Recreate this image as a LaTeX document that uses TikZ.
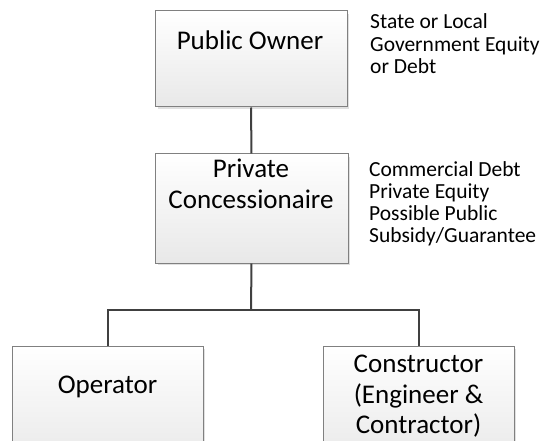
\documentclass[tikz,border=0pt]{standalone}
\usepackage{fontspec}
\setmainfont{Carlito}
\begin{document}
\begin{tikzpicture}[x=1pt,y=-1pt,
  box/.style={draw=black!50, line width=1pt, top color=white, bottom color=black!9, rectangle, inner sep=0pt},
  boxtext/.style={anchor=base, font=\fontsize{27}{30}\selectfont, inner sep=0pt},
  note/.style={anchor=base west, font=\fontsize{21.5}{22}\selectfont, inner sep=0pt},
  link/.style={draw=black!75, line width=2pt}]
\useasboundingbox (0,0) rectangle (541,441);
\clip (0,0) rectangle (541,441);
% shadows
\fill[black!12] (158,14) rectangle (349,109);
\fill[black!12] (158,157) rectangle (350,265);
\fill[black!12] (15,349) rectangle (205,470);
\fill[black!12] (326,349) rectangle (516,470);
% boxes
\node[box, minimum width=192, minimum height=96] (po) at (251,59) {};
\node[box, minimum width=193, minimum height=109] (pc) at (251.5,208.5) {};
\node[box, minimum width=191, minimum height=120] (op) at (107.5,406) {};
\node[box, minimum width=191, minimum height=120] (co) at (418.5,406) {};
% box texts
\node[boxtext] (pot) at (250,50) {Public Owner};
\node[boxtext] (pct1) at (251,178) {Private};
\node[boxtext] (pct2) at (251,208) {Concessionaire};
\node[boxtext] (opt) at (107.5,393) {Operator};
\node[boxtext] (cot1) at (418.5,372) {Constructor};
\node[boxtext] (cot2) at (418.5,403) {(Engineer \&};
\node[boxtext] (cot3) at (418.5,433) {Contractor)};
% notes
\node[note] (pon1) at (370,29) {State or Local};
\node[note] (pon2) at (370,51.5) {Government Equity};
\node[note] (pon3) at (370,74) {or Debt};
\node[note] (pcn1) at (369,176) {Commercial Debt};
\node[note] (pcn2) at (369,198) {Private Equity};
\node[note] (pcn3) at (369,220) {Possible Public};
\node[note] (pcn4) at (369,242) {Subsidy/Guarantee};
% connectors
\coordinate (j) at (251,310);
\draw[link] (po.south) -- (pc.north);
\draw[link] (pc.south) -- (j);
\draw[link, line join=miter] (op.north) |- (j) -| (co.north);
\end{tikzpicture}
\end{document}
